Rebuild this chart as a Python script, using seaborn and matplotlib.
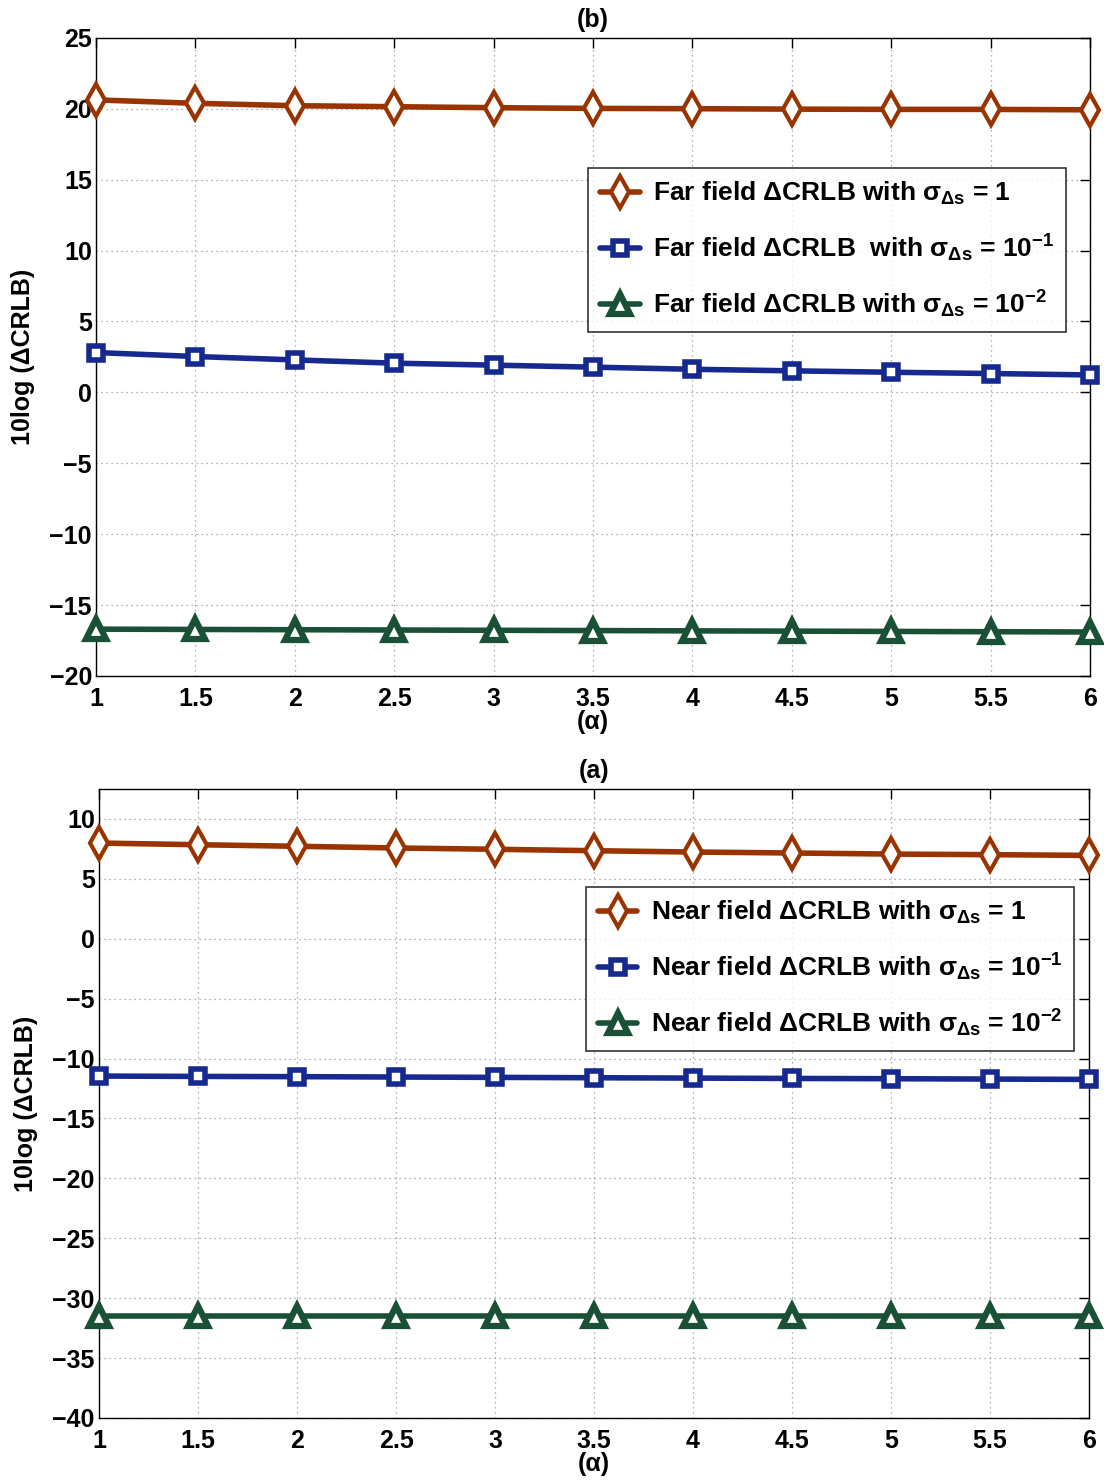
import numpy as np
import pandas as pd
import matplotlib
matplotlib.use("Agg")
import matplotlib.pyplot as plt
import seaborn as sns

alpha = [1, 1.5, 2, 2.5, 3, 3.5, 4, 4.5, 5, 5.5, 6]

far_s1 = [20.63, 20.39, 20.22, 20.15, 20.08, 20.03, 20.01, 19.98, 19.96, 19.96, 19.93]
far_s01 = [2.81, 2.53, 2.29, 2.06, 1.92, 1.78, 1.63, 1.52, 1.42, 1.33, 1.23]
far_s001 = [-16.70, -16.72, -16.74, -16.76, -16.78, -16.80, -16.82, -16.84, -16.86, -16.88, -16.90]

near_s1 = [7.99, 7.85, 7.72, 7.58, 7.47, 7.35, 7.24, 7.16, 7.07, 7.02, 6.96]
near_s01 = [-11.46, -11.49, -11.51, -11.54, -11.57, -11.60, -11.63, -11.66, -11.68, -11.71, -11.74]
near_s001 = [-31.47, -31.47, -31.47, -31.47, -31.47, -31.47, -31.47, -31.47, -31.47, -31.47, -31.47]

far_labels = [r'Far field ΔCRLB with $\sigma_{\mathbf{\Delta s}}$ = 1',
              r'Far field ΔCRLB  with $\sigma_{\mathbf{\Delta s}}$ = 10$^{\mathbf{-1}}$',
              r'Far field ΔCRLB with $\sigma_{\mathbf{\Delta s}}$ = 10$^{\mathbf{-2}}$']
near_labels = [r'Near field ΔCRLB with $\sigma_{\mathbf{\Delta s}}$ = 1',
               r'Near field ΔCRLB with $\sigma_{\mathbf{\Delta s}}$ = 10$^{\mathbf{-1}}$',
               r'Near field ΔCRLB with $\sigma_{\mathbf{\Delta s}}$ = 10$^{\mathbf{-2}}$']

xticks = [1, 1.5, 2, 2.5, 3, 3.5, 4, 4.5, 5, 5.5, 6]
xticklabels = ['1', '1.5', '2', '2.5', '3', '3.5', '4', '4.5', '5', '5.5', '6']
yticks_top = [-20, -15, -10, -5, 0, 5, 10, 15, 20, 25]
yticks_bot = [-40, -35, -30, -25, -20, -15, -10, -5, 0, 5, 10]

colors = ['#993300', '#16298f', '#1a5035']
markers = ['d', 's', '^']
msizes = [16, 10, 14]
mews = [3, 4, 4.5]

sns.set_style('white')
plt.rcParams['font.family'] = ['Liberation Sans', 'DejaVu Sans']
plt.rcParams['font.weight'] = 'bold'
plt.rcParams['text.color'] = 'black'
plt.rcParams['axes.labelcolor'] = 'black'
plt.rcParams['xtick.color'] = 'black'
plt.rcParams['ytick.color'] = 'black'
plt.rcParams['axes.labelweight'] = 'bold'
plt.rcParams['axes.titleweight'] = 'bold'
plt.rcParams['mathtext.fontset'] = 'custom'
plt.rcParams['mathtext.rm'] = 'Liberation Sans:bold'
plt.rcParams['mathtext.it'] = 'Liberation Sans'
plt.rcParams['mathtext.bf'] = 'Liberation Sans:bold'

fig = plt.figure(figsize=(11.04, 14.82), dpi=100)
ax1 = fig.add_axes([0.087, 0.5439, 0.9004, 0.4305])
ax2 = fig.add_axes([0.0897, 0.0432, 0.8967, 0.4244])


def draw(ax, series, labels, ylim, yticks, title, bbox):
    for vals, lab, c, m, ms, mew in zip(series, labels, colors, markers, msizes, mews):
        df = pd.DataFrame({'alpha': alpha, 'val': vals})
        sns.lineplot(data=df, x='alpha', y='val', ax=ax, color=c, marker=m,
                     markersize=ms, markerfacecolor='white', markeredgecolor=c,
                     markeredgewidth=mew, linewidth=4, label=lab, clip_on=False, zorder=3)
    ax.set_xlim(1, 6)
    ax.set_ylim(*ylim)
    ax.set_xticks(xticks)
    ax.set_xticklabels(xticklabels)
    ax.set_yticks(yticks)
    ax.set_yticklabels([str(t).replace('-', '\u2212') for t in yticks])
    ax.grid(True, linestyle=(0, (1, 3)), color='#999999', linewidth=0.9)
    ax.tick_params(direction='in', length=7, width=1, labelsize=18, top=True, right=True,
                   colors='black')
    ax.tick_params(axis='x', pad=8)
    ax.tick_params(axis='y', pad=3)
    for lbl in ax.get_xticklabels() + ax.get_yticklabels():
        lbl.set_fontweight('bold')
    for sp in ax.spines.values():
        sp.set_visible(True)
        sp.set_color('black')
        sp.set_linewidth(1)
    ax.set_xlabel('(α)', fontsize=18, fontweight='bold', labelpad=-1, color='black')
    ax.set_ylabel('10log (ΔCRLB)', fontsize=18, fontweight='bold', labelpad=10, color='black')
    ax.set_title(title, fontsize=18, fontweight='bold', pad=8, color='black')
    leg = ax.legend(loc='upper right', bbox_to_anchor=bbox, fontsize=19, frameon=True,
                    fancybox=False, edgecolor='black', handlelength=1.5, handletextpad=0.5,
                    borderpad=0.45, labelspacing=0.95, borderaxespad=0)
    leg.get_frame().set_linewidth(1.2)
    for t in leg.get_texts():
        t.set_fontweight('bold')
        t.set_color('black')


draw(ax1, [far_s1, far_s01, far_s001], far_labels, (-20, 25), yticks_top, '(b)', (0.976, 0.796))
draw(ax2, [near_s1, near_s01, near_s001], near_labels, (-40, 12.5), yticks_bot, '(a)', (0.985, 0.844))

fig.savefig('out.png', dpi=100)
